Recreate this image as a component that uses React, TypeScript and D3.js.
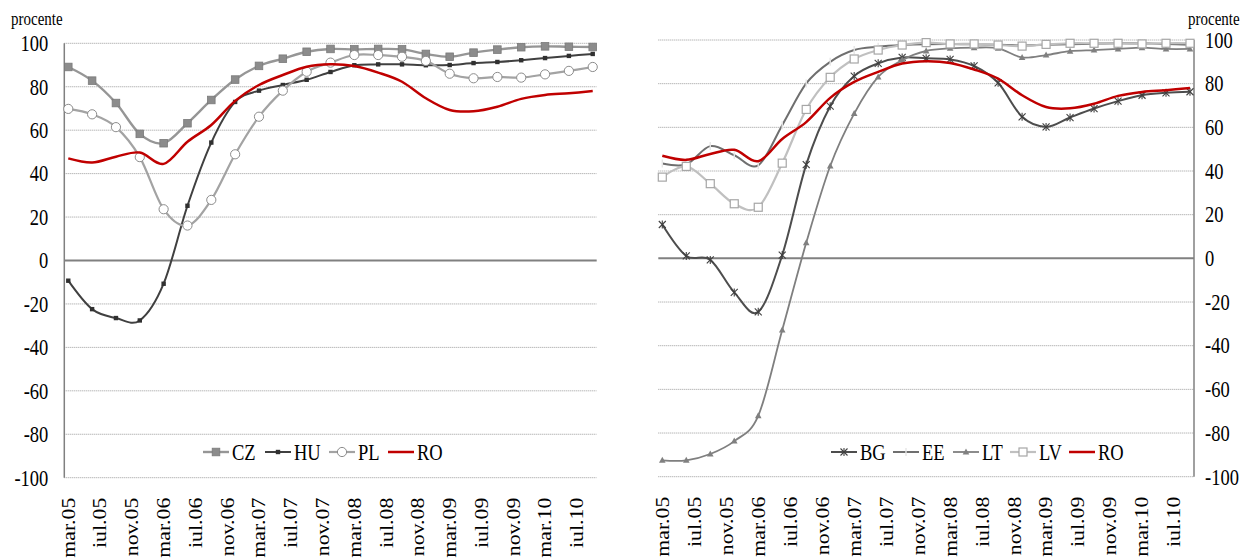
import React from "react";
import * as d3 from "d3";

// month names used on the category axis (Romanian)
const monthNames = ["ian", "feb", "mar", "apr", "mai", "iun", "iul", "aug", "sep", "oct", "nov", "dec"];

// quarterly observations
const dates = [
  "mar.05", "iun.05", "sep.05", "dec.05",
  "mar.06", "iun.06", "sep.06", "dec.06",
  "mar.07", "iun.07", "sep.07", "dec.07",
  "mar.08", "iun.08", "sep.08", "dec.08",
  "mar.09", "iun.09", "sep.09", "dec.09",
  "mar.10", "iun.10", "sep.10",
];

const tickLabels = [
  "mar.05", "iul.05", "nov.05", "mar.06", "iul.06", "nov.06", "mar.07", "iul.07", "nov.07",
  "mar.08", "iul.08", "nov.08", "mar.09", "iul.09", "nov.09", "mar.10", "iul.10",
];

const yTicks = [100, 80, 60, 40, 20, 0, -20, -40, -60, -80, -100];

// left panel
const CZ = [89.1, 82.8, 72.5, 58.3, 54.0, 63.2, 73.9, 83.3, 89.6, 92.9, 96.1, 97.4, 97.2, 97.4, 97.2, 95.1, 93.8, 95.7, 97.1, 98.2, 98.6, 98.4, 98.3];
const HU = [-9.3, -22.4, -26.5, -27.6, -10.7, 25.2, 54.3, 73.0, 78.2, 80.8, 83.2, 86.8, 89.9, 90.3, 90.3, 89.9, 90.0, 90.9, 91.4, 92.2, 93.2, 94.2, 95.1];
const PL = [69.8, 67.3, 61.4, 47.6, 23.6, 16.1, 27.9, 48.9, 66.2, 78.2, 86.9, 91.1, 94.6, 94.6, 93.8, 91.9, 86.0, 83.9, 84.5, 84.2, 85.7, 87.3, 89.1];
const RO = [47.0, 45.1, 47.8, 49.7, 44.5, 54.7, 62.4, 73.5, 80.8, 85.4, 89.2, 90.3, 89.5, 86.5, 82.3, 74.7, 69.3, 68.7, 70.8, 74.4, 76.2, 77.0, 78.0];

// right panel
const BG = [15.5, 1.1, -0.7, -15.6, -24.5, 1.5, 42.9, 69.7, 83.5, 89.3, 92.0, 91.6, 91.1, 88.1, 80.4, 64.8, 60.2, 64.5, 68.6, 72.0, 74.7, 75.8, 76.3];
const EE = [43.4, 43.0, 51.4, 47.2, 42.6, 61.0, 80.1, 90.0, 95.4, 96.9, 97.7, 98.1, 98.2, 98.0, 97.8, 97.5, 97.8, 98.0, 98.3, 98.5, 98.4, 98.2, 97.8];
const LT = [-92.5, -92.5, -89.6, -83.7, -72.1, -32.8, 7.1, 42.3, 66.3, 83.1, 90.8, 95.0, 96.2, 96.5, 96.2, 92.0, 93.1, 94.9, 95.4, 95.9, 96.5, 95.9, 95.9];
const LV = [37.2, 42.1, 34.2, 25.0, 23.4, 43.6, 68.2, 82.9, 91.3, 95.4, 97.7, 98.8, 98.2, 98.2, 97.7, 97.2, 98.0, 98.5, 98.5, 98.5, 98.2, 98.5, 98.5];

// every month from mar.05 to sep.10 (category axis)
const months: string[] = [];
for (let yr = 5; yr <= 10; yr++) {
  monthNames.forEach((m, i) => {
    if (yr === 5 && i < 2) return;
    if (yr === 10 && i > 8) return;
    months.push(`${m}.${String(yr).padStart(2, "0")}`);
  });
}

const FONT = "Liberation Serif";
const SY = 1.28; // the picture is stretched vertically

const leftSeries = [
  { name: "CZ", values: CZ, color: "#969696", width: 2.4, marker: "squareFill" },
  { name: "HU", values: HU, color: "#404040", width: 2, marker: "squareSmall" },
  { name: "PL", values: PL, color: "#a3a3a3", width: 2.2, marker: "circle" },
  { name: "RO", values: RO, color: "#c00000", width: 2.5, marker: null },
];

const rightSeries = [
  { name: "BG", values: BG, color: "#4d4d4d", width: 2, marker: "star" },
  { name: "EE", values: EE, color: "#6f6f6f", width: 2, marker: "tick" },
  { name: "LT", values: LT, color: "#7f7f7f", width: 1.8, marker: "triangle" },
  { name: "LV", values: LV, color: "#c0c0c0", width: 2.2, marker: "squareOpen" },
  { name: "RO", values: RO, color: "#c00000", width: 2.5, marker: null },
];

const Marker = ({ kind, x, y }: { kind: string | null; x: number; y: number }) => {
  if (!kind) return null;
  if (kind === "squareFill")
    return <rect x={x - 3.8} y={y - 3.8} width={7.6} height={7.6} fill="#8c8c8c" stroke="#7a7a7a" strokeWidth={0.8} />;
  if (kind === "squareSmall")
    return <rect x={x - 2.2} y={y - 2.2} width={4.4} height={4.4} fill="#303030" />;
  if (kind === "circle")
    return <circle cx={x} cy={y} r={4.6} fill="#fff" stroke="#8c8c8c" strokeWidth={1} />;
  if (kind === "squareOpen")
    return <rect x={x - 4} y={y - 4} width={8} height={8} fill="#fff" stroke="#a6a6a6" strokeWidth={1.2} />;
  if (kind === "triangle")
    return <path d={`M${x},${y - 3.5}L${x + 3.3},${y + 2.5}L${x - 3.3},${y + 2.5}Z`} fill="#808080" />;
  if (kind === "tick")
    return <line x1={x} x2={x} y1={y - 4} y2={y + 4} stroke="#e6e6e6" strokeWidth={1.4} />;
  if (kind === "star")
    return (
      <g stroke="#404040" strokeWidth={1.1}>
        <line x1={x - 3.5} x2={x + 3.5} y1={y - 3.5} y2={y + 3.5} />
        <line x1={x - 3.5} x2={x + 3.5} y1={y + 3.5} y2={y - 3.5} />
        <line x1={x} x2={x} y1={y - 4} y2={y + 4} />
      </g>
    );
  return null;
};

const Panel = ({ series, x0, x1, yTop, yBottom, axisSide, legendX, legendY }: any) => {
  const x = d3.scaleBand().domain(months).range([x0, x1]).padding(0);
  const cx = (d: string) => (x(d) as number) + x.bandwidth() / 2;
  const y = d3.scaleLinear().domain([-100, 100]).range([yBottom, yTop]);

  const line = d3
    .line<number>()
    .x((_, i) => cx(dates[i]))
    .y((v) => y(v))
    .curve(d3.curveCatmullRom.alpha(0));

  const axisX = axisSide === "left" ? x0 : x1;

  return (
    <g>
      {/* gridlines */}
      {yTicks.filter((t) => t !== 0).map((t) => (
        <line key={t} x1={x0} x2={x1} y1={y(t)} y2={y(t)} stroke="#9a9a9a" strokeWidth={1} strokeDasharray="1,1" />
      ))}
      <line x1={x0} x2={x1} y1={y(0)} y2={y(0)} stroke="#808080" strokeWidth={2} />
      <line x1={axisX} x2={axisX} y1={yTop} y2={yBottom} stroke="#808080" strokeWidth={1.5} />

      {/* y tick labels */}
      {yTicks.map((t) => (
        <text
          key={t}
          transform={`translate(${axisSide === "left" ? x0 - 16 : x1 + 11},${y(t)}) scale(1,${SY})`}
          textAnchor={axisSide === "left" ? "end" : "start"}
          dominantBaseline="central"
          fontSize={18.5}
          fontFamily={FONT}
          fill="#000"
        >
          {t}
        </text>
      ))}

      {/* x tick labels */}
      {tickLabels.map((t) => (
        <text
          key={t}
          transform={`translate(${cx(t)},${yBottom + 20}) rotate(-90) scale(1.18,1)`}
          textAnchor="end"
          dominantBaseline="central"
          fontSize={18.5}
          fontFamily={FONT}
          fill="#000"
        >
          {t}
        </text>
      ))}

      {/* series */}
      {series.map((s: any) => (
        <g key={s.name}>
          <path d={line(s.values) as string} fill="none" stroke={s.color} strokeWidth={s.width} />
          {s.values.map((v: number, i: number) => (
            <Marker key={i} kind={s.marker} x={cx(dates[i])} y={y(v)} />
          ))}
        </g>
      ))}

      {/* legend */}
      {series.map((s: any, i: number) => {
        const lx = legendX[i];
        return (
          <g key={s.name}>
            <line x1={lx} x2={lx + 26} y1={legendY} y2={legendY} stroke={s.color} strokeWidth={s.width} />
            <Marker kind={s.marker} x={lx + 13} y={legendY} />
            <text
              transform={`translate(${lx + 29},${legendY}) scale(1,${SY})`}
              dominantBaseline="central"
              fontSize={18.5}
              fontFamily={FONT}
              fill="#000"
            >
              {s.name}
            </text>
          </g>
        );
      })}
    </g>
  );
};

const App = () => {
  return (
    <svg width={1248} height={558} style={{ position: "absolute", left: 0, top: 0, background: "#fff" }}>
      <text transform={`translate(11,25) scale(1,${SY})`} fontSize={15} fontFamily={FONT} fill="#000">
        procente
      </text>
      <text transform={`translate(1188,25) scale(1,${SY})`} fontSize={15} fontFamily={FONT} fill="#000">
        procente
      </text>
      <Panel
        series={leftSeries}
        x0={64.3}
        x1={596.7}
        yTop={43.3}
        yBottom={477.7}
        axisSide="left"
        legendX={[203, 265, 329, 388]}
        legendY={452}
      />
      <Panel
        series={rightSeries}
        x0={658.3}
        x1={1194}
        yTop={40}
        yBottom={476.7}
        axisSide="right"
        legendX={[831, 893, 953, 1010, 1069]}
        legendY={452}
      />
    </svg>
  );
};

export default App;
